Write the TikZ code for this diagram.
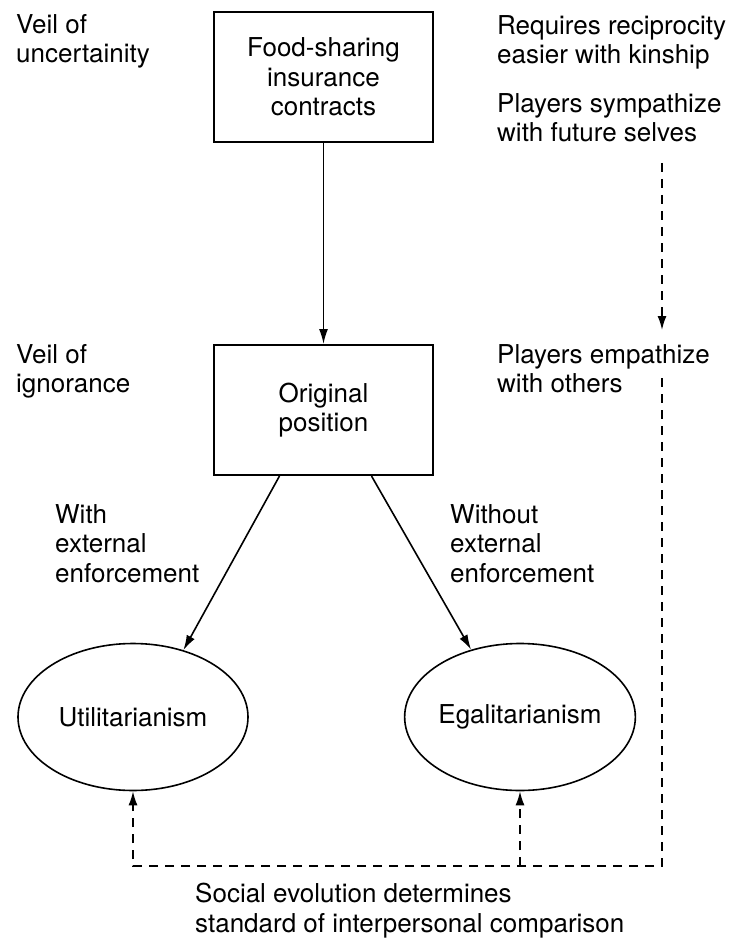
\documentclass[tikz,border=0pt]{standalone}
\usepackage{fontspec}
\setmainfont{TeX Gyre Heros}
\usetikzlibrary{positioning}
\usetikzlibrary{shapes.geometric, arrows.meta, calc}

\begin{document}
\begin{tikzpicture}[
				x=1pt, y=-1pt,
				node distance=30pt and 30pt,
				font=\fontsize{26}{29.5}\selectfont,
				% Node Styles
				base/.style={draw, line width=1.6pt, align=center, inner sep=0pt},
				stage/.style={base, rectangle, line width=2pt, minimum width=219pt, minimum height=130pt},
				ethic/.style={base, ellipse, minimum width=230pt, minimum height=147pt},
				note/.style={align=left, anchor=north west, inner sep=0pt},
				arrow/.style={-{Latex[length=15pt, width=9pt]}, line width=1.6pt},
				dasharrow/.style={-{Latex[length=14pt, width=9pt]}, line width=1.6pt, dash pattern=on 9pt off 7pt}
				]
				\useasboundingbox (0,0) rectangle (733,941);
				
				%% ================= BOXES =================
				\node[stage] (food) at (323.5,77) {Food-sharing\\insurance\\contracts};
				\node[stage, below=201pt of food] (orig) {Original\\position};
				
				\node[ethic] (util) at (133,717) {Utilitarianism};
				\node[ethic] (egal) at (520,717) {Egalitarianism};
				
				%% ================= LABELS =================
				\node[note] (uncert) at (16,14) {Veil of\\uncertainity};
				\node[note] (ignor) at (16,344) {Veil of\\ignorance};
				\node[note] (recip) at (497,15) {Requires reciprocity\\easier with kinship};
				\node[note] (sympa) at (497,93) {Players sympathize\\with future selves};
				\node[note] (empa) at (497,344) {Players empathize\\with others};
				\node[note] (withenf) at (55,504) {With\\external\\enforcement};
				\node[note] (withoutenf) at (450,504) {Without\\external\\enforcement};
				\node[note] (social) at (195,883) {Social evolution determines\\standard of interpersonal comparison};
				
				% Edges
				\draw[arrow] (food) -- (orig);
				\draw[arrow] ([xshift=-44pt]orig.south) -- (util.53);
				\draw[arrow] ([xshift=48pt]orig.south) -- (egal.126);
				
				% Dashed route (right side and bottom)
				\coordinate (symdrop) at (662,163);
				\coordinate (empdrop) at (662,378);
				\coordinate (corner) at (662,866);
				\draw[dasharrow] (symdrop) -- ([yshift=14pt]empa.north -| symdrop);
				\draw[dasharrow] (empdrop) -- (corner) -| (util.south);
				\draw[dasharrow] (egal.south |- corner) -- (egal.south);
				
			\end{tikzpicture}
\end{document}
